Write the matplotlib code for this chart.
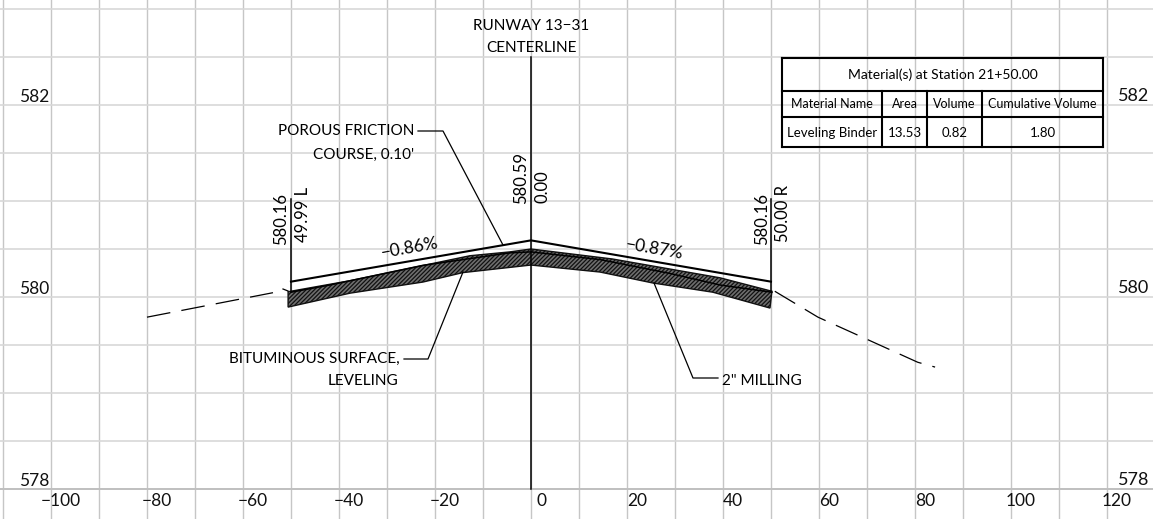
import matplotlib
matplotlib.use('Agg')
import matplotlib.pyplot as plt
import numpy as np

plt.rcParams['font.family'] = ['Lato', 'DejaVu Sans']
plt.rcParams['hatch.linewidth'] = 0.9

# offsets from centerline, elevations
x_ticks = [-100, -80, -60, -40, -20, 0, 20, 40, 60, 80, 100, 120]
x_labels = ['\u2212100', '\u221280', '\u221260', '\u221240', '\u221220', '0', '20', '40', '60', '80', '100', '120']
y_ticks = [578, 580, 582]

surface_x = [-50, 0, 50]
surface_y = [580.16, 580.59, 580.16]
edge_left_x = [-50, -50]
edge_left_y = [581.02, 580.06]
edge_right_x = [50, 50]
edge_right_y = [581.02, 580.06]

hatch_top_x = [-50.6, -37.7, -12.7, -4.4, 0, 17, 39.4, 50.2]
hatch_top_y = [580.055, 580.17, 580.43, 580.47, 580.50, 580.396, 580.2, 580.06]
hatch_bot_x = [-50.6, -37.7, -22.5, -14.2, 0, 14.4, 25.4, 37.9, 49.8]
hatch_bot_y = [579.895, 580.04, 580.156, 580.254, 580.333, 580.26, 580.146, 580.05, 579.885]
inner_x = [-50, -41.9, -22.5, -4.4, 0, 14.4, 29, 39.4, 50.2]
inner_y = [580.05, 580.125, 580.33, 580.46, 580.47, 580.39, 580.245, 580.125, 580.05]

ground_left_x = [-80, -53.75]
ground_left_y = [579.79, 580.045]
ground_right_x = [50.8, 59.8, 80.6, 84.2]
ground_right_y = [580.06, 579.79, 579.32, 579.27]

table_title = 'Material(s) at Station 21+50.00'
table_head = ['Material Name', 'Area', 'Volume', 'Cumulative Volume']
table_row = ['Leveling Binder', '13.53', '0.82', '1.80']

fig = plt.figure(figsize=(11.53, 5.19), dpi=100)
ax = fig.add_axes([0, 0, 1, 1])
ax.set_xlim(-110.625, 129.6)
ax.set_ylim(577.6875, 583.094)
ax.axis('off')

# grid
for gx in np.arange(-110, 130, 10):
    ax.axvline(gx, color='#c6c6c6', lw=1.0, zorder=1)
for gy in np.arange(578, 583.5, 0.5):
    ax.axhline(gy, color='#d8d8d8', lw=1.2, zorder=1)
ax.axhline(578, color='#bdbdbd', lw=1.3, zorder=1)

# section
ax.fill(hatch_top_x + hatch_bot_x[::-1], hatch_top_y + hatch_bot_y[::-1],
        facecolor='#6e6e6e', edgecolor='#111111', hatch='////////', lw=1.0, zorder=2)
ax.plot(inner_x, inner_y, color='black', lw=1.1, zorder=3)
ax.plot(surface_x, surface_y, color='black', lw=1.5, zorder=4)
ax.plot(edge_left_x, edge_left_y, color='black', lw=1.1, zorder=4)
ax.plot(edge_right_x, edge_right_y, color='black', lw=1.1, zorder=4)
ax.plot([0, 0], [578, 582.5], color='black', lw=1.1, zorder=4)
ax.plot(ground_left_x, ground_left_y, color='black', lw=0.9, dashes=(19, 9), zorder=3)
ax.plot(ground_right_x, ground_right_y, color='black', lw=0.9, dashes=(19, 9), zorder=3)

# axis labels
for xt, lab in zip(x_ticks, x_labels):
    ax.text(xt + 2.1, 577.875, lab, ha='center', va='center', fontsize=12.5, color='#111111', zorder=5)
for yt in y_ticks:
    ax.text(-100.3, yt + 0.085, str(yt), ha='right', va='center', fontsize=12.5, color='#111111', zorder=5)
    ax.text(122.4, yt + 0.095, str(yt), ha='left', va='center', fontsize=13, color='#111111', zorder=5)

# overlay in image pixels for notes and table
ov = fig.add_axes([0, 0, 1, 1])
ov.set_xlim(0, 1153)
ov.set_ylim(519, 0)
ov.axis('off')
ov.patch.set_alpha(0)


def note(x, y, s, ha='center', rot=0, fs=11):
    ov.text(x, y, s, ha=ha, va='center', rotation=rot, rotation_mode='anchor' if rot and abs(rot) < 90 else 'default',
            fontsize=fs, color='black', zorder=6)


note(531, 26, 'RUNWAY 13\u221231')
note(531, 48, 'CENTERLINE')
note(414, 131, 'POROUS FRICTION', ha='right')
note(414, 155, "COURSE, 0.10'", ha='right')
note(400, 359, 'BITUMINOUS SURFACE,', ha='right')
note(398, 381, 'LEVELING', ha='right')
note(722, 381, '2" MILLING', ha='left')
note(281, 219, '580.16', rot=90, fs=12)
note(303, 214, '49.99 L', rot=90, fs=12)
note(521, 178, '580.59', rot=90, fs=12)
note(543, 187, '0.00', rot=90, fs=12)
note(762, 219, '580.16', rot=90, fs=12)
note(783, 214, '50.00 R', rot=90, fs=12)
note(410, 248, '\u22120.86%', rot=10, fs=12.5)
note(654, 249, '\u22120.87%', rot=-10, fs=12.5)

# leaders
ov.plot([418, 443, 503], [131, 131, 245], color='black', lw=0.9, zorder=6)
ov.plot([404, 428, 463], [359, 359, 272], color='black', lw=0.9, zorder=6)
ov.plot([718, 693, 654], [378, 378, 283], color='black', lw=0.9, zorder=6)
ov.plot([283, 288], [289, 291], color='black', lw=0.9, zorder=6)

# table
tl, tr = 782, 1103
rows = [58, 91, 117, 147]
cols = [782, 882, 927, 982, 1103]
for ry in rows:
    ov.plot([tl, tr], [ry, ry], color='black', lw=1.5, zorder=6, solid_capstyle='projecting')
ov.plot([tl, tl], [rows[0], rows[3]], color='black', lw=1.5, zorder=6)
ov.plot([tr, tr], [rows[0], rows[3]], color='black', lw=1.5, zorder=6)
for cx in cols[1:-1]:
    ov.plot([cx, cx], [rows[1], rows[3]], color='black', lw=1.5, zorder=6)
note((tl + tr) / 2, 75, table_title, fs=10)
for i in range(4):
    cc = (cols[i] + cols[i + 1]) / 2
    note(cc, 104.5, table_head[i], fs=9)
    note(cc, 133, table_row[i], fs=9.5)

fig.savefig('out.png', dpi=100)
